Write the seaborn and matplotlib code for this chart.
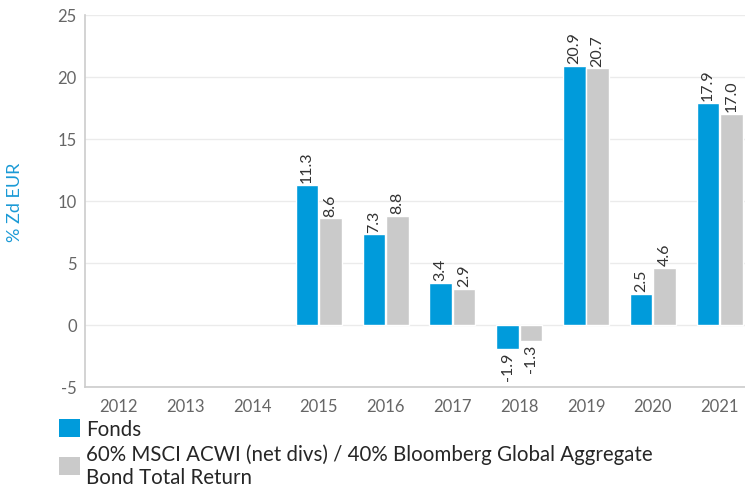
import numpy as np
import pandas as pd
import matplotlib
matplotlib.use('Agg')
import matplotlib.pyplot as plt
from matplotlib.patches import Patch
import seaborn as sns

years = ['2012', '2013', '2014', '2015', '2016', '2017', '2018', '2019', '2020', '2021']
fonds = [np.nan, np.nan, np.nan, 11.3, 7.3, 3.4, -1.9, 20.9, 2.5, 17.9]
bench = [np.nan, np.nan, np.nan, 8.6, 8.8, 2.9, -1.3, 20.7, 4.6, 17.0]
series = ['Fonds', '60% MSCI ACWI (net divs) / 40% Bloomberg Global Aggregate\nBond Total Return']
colors = ['#009bdb', '#cacaca']

df = pd.DataFrame({'year': years * 2,
                   'value': fonds + bench,
                   'serie': [series[0]] * len(years) + [series[1]] * len(years)}).dropna()

sns.set_theme(style='white')
plt.rcParams['font.family'] = ['Lato', 'DejaVu Sans']
plt.rcParams['axes.unicode_minus'] = False

fig = plt.figure(figsize=(7.45, 4.89), dpi=100)
ax = fig.add_axes([85 / 745, 1 - 388 / 489, 668 / 745, 372 / 489])

sns.barplot(data=df, x='year', y='value', hue='serie', order=years, hue_order=series,
            palette=colors, width=0.7, gap=0.04, saturation=1, legend=False, ax=ax)

for c in ax.containers:
    ax.bar_label(c, fmt='%.1f', rotation=90, padding=2, fontsize=11.5, color='#333333')

ax.set_ylim(-5, 25)
ax.set_yticks(np.arange(-5, 26, 5))
ax.set_xlim(-0.5, 9.5)
ax.yaxis.grid(True, color='#ebebeb', linewidth=1)
ax.set_axisbelow(True)
for s in ['top', 'right']:
    ax.spines[s].set_visible(False)
ax.spines['left'].set_color('#cccccc')
ax.spines['bottom'].set_color('#cccccc')
ax.spines['left'].set_linewidth(1.2)
ax.spines['bottom'].set_linewidth(1.2)
ax.tick_params(axis='both', length=0, labelsize=12, labelcolor='#666666')
ax.tick_params(axis='x', pad=8)
ax.tick_params(axis='y', pad=6)
ax.set_xlabel('')
ax.set_ylabel('')
fig.text(15 / 745, 1 - 202 / 489, '% Zd EUR', rotation=90, ha='center', va='center',
         color='#1a9ad6', fontsize=13)

handles = [Patch(facecolor=c, edgecolor='none') for c in colors]
fig.legend(handles, series, loc='upper left', bbox_to_anchor=(59 / 745, 1 - 420 / 489),
           frameon=False, fontsize=14.8, handlelength=1.0, handleheight=1.0,
           handletextpad=0.3, labelspacing=0.2, borderpad=0, borderaxespad=0)

fig.savefig('out.png', dpi=100)
